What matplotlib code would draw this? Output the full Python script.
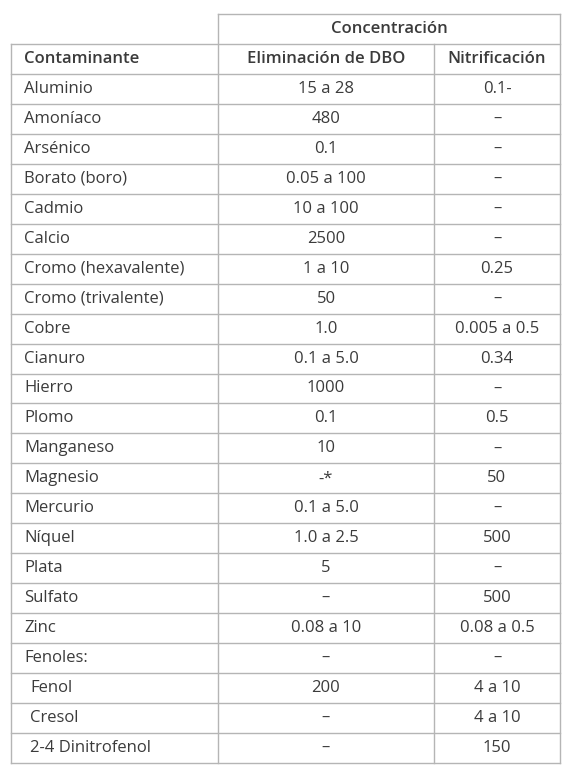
import matplotlib
matplotlib.use("Agg")
import matplotlib.pyplot as plt

contaminantes = ["Aluminio", "Amoníaco", "Arsénico", "Borato (boro)", "Cadmio", "Calcio",
                 "Cromo (hexavalente)", "Cromo (trivalente)", "Cobre", "Cianuro", "Hierro",
                 "Plomo", "Manganeso", "Magnesio", "Mercurio", "Níquel", "Plata", "Sulfato",
                 "Zinc", "Fenoles:", "Fenol", "Cresol", "2-4 Dinitrofenol"]
dbo = ["15 a 28", "480", "0.1", "0.05 a 100", "10 a 100", "2500", "1 a 10", "50", "1.0",
       "0.1 a 5.0", "1000", "0.1", "10", "-*", "0.1 a 5.0", "1.0 a 2.5", "5", "–",
       "0.08 a 10", "–", "200", "–", "–"]
nitrif = ["0.1-", "–", "–", "–", "–", "–", "0.25", "–", "0.005 a 0.5", "0.34", "–", "0.5",
          "–", "50", "–", "500", "–", "500", "0.08 a 0.5", "–", "4 a 10", "4 a 10", "150"]
sub_items = {"Fenol", "Cresol", "2-4 Dinitrofenol"}

plt.rcParams['font.family'] = ['Open Sans', 'DejaVu Sans']
fig = plt.figure(figsize=(5.76, 7.76), dpi=100)
ax = fig.add_axes([0, 0, 1, 1])
ax.set_xlim(0, 576)
ax.set_ylim(776, 0)
ax.axis('off')

txt = '#3b3b3b'
lc = '#b5b5b5'
L, V1, V2, R = 11, 218, 434, 560
top = 14
rh = (763 - top) / 25
ys = [top + i * rh for i in range(26)]

# lines
ax.plot([V1, R], [ys[0], ys[0]], color=lc, lw=1)
for y in ys[1:]:
    ax.plot([L, R], [y, y], color=lc, lw=1)
ax.plot([L, L], [ys[1], ys[-1]], color=lc, lw=1)
ax.plot([R, R], [ys[0], ys[-1]], color=lc, lw=1)
ax.plot([V1, V1], [ys[0], ys[-1]], color=lc, lw=1)
ax.plot([V2, V2], [ys[1], ys[-1]], color=lc, lw=1)

fs = 12
c1 = (V1 + V2) / 2
c2 = (V2 + R) / 2
ax.text((V1 + R) / 2, (ys[0] + ys[1]) / 2, "Concentración", ha='center', va='center',
        fontsize=fs, color=txt, weight='semibold')
ym = (ys[1] + ys[2]) / 2
ax.text(24, ym, "Contaminante", ha='left', va='center', fontsize=fs, color=txt, weight='semibold')
ax.text(c1, ym, "Eliminación de DBO", ha='center', va='center', fontsize=fs, color=txt, weight='semibold')
ax.text(c2, ym, "Nitrificación", ha='center', va='center', fontsize=fs, color=txt, weight='semibold')

for i, (c, d, n) in enumerate(zip(contaminantes, dbo, nitrif)):
    y = (ys[i + 2] + ys[i + 3]) / 2
    x0 = 30 if c in sub_items else 24
    ax.text(x0, y, c, ha='left', va='center', fontsize=fs, color=txt)
    ax.text(c1, y, d, ha='center', va='center', fontsize=fs, color=txt)
    ax.text(c2, y, n, ha='center', va='center', fontsize=fs, color=txt)

fig.savefig("out.png", dpi=100)
